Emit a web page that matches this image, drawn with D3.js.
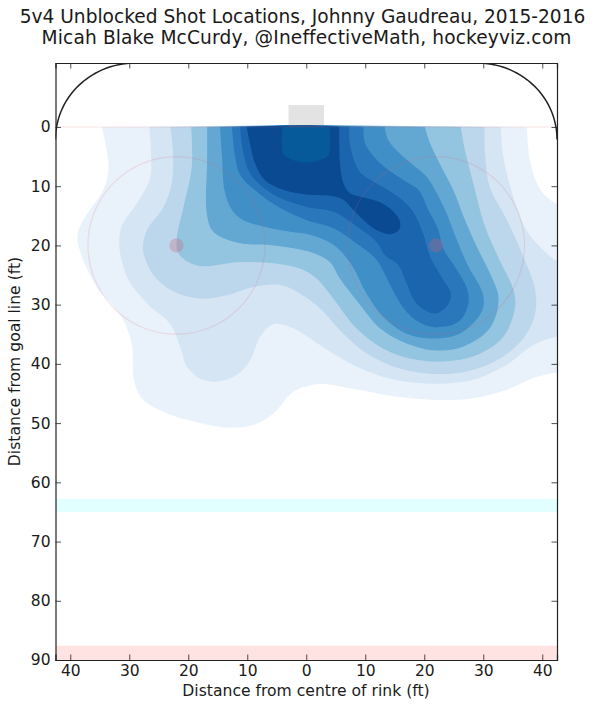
<!DOCTYPE html>
<html>
<head>
<meta charset="utf-8">
<script src="https://cdn.jsdelivr.net/npm/d3@7"></script>
<style>
  html, body { margin: 0; padding: 0; background: #fff; }
  svg { display: block; }
  text { font-family: "DejaVu Sans"; fill: #1a1a1a; }
</style>
</head>
<body>
<div id="chart"></div>
<script>
// Titles and axis labels
const titleLines = ["5v4 Unblocked Shot Locations, Johnny Gaudreau, 2015-2016",
                    "Micah Blake McCurdy, @IneffectiveMath, hockeyviz.com"];
const xLabel = "Distance from centre of rink (ft)";
const yLabel = "Distance from goal line (ft)";
const xTicks = [40, 30, 20, 10, 0, -10, -20, -30, -40];
const yTicks = [0, 10, 20, 30, 40, 50, 60, 70, 80, 90];

// Shot density bands, lightest to darkest, as [x ft, y ft] outlines
const band1 = [[34.65,0],[33.5,6.7],[34.4,10.6],[37.8,15.7],[38.8,18.5],[37.9,22.2],[35.5,27],[31.5,31.8],[29.6,36.5],[29.2,42.7],[27.9,45.8],[24.2,48.1],[18,50],[12.9,50.8],[8.9,50.3],[5.55,48.4],[2.2,44.7],[-2.3,43.4],[-7.4,44.1],[-15.9,45.6],[-22.7,46.1],[-28.3,45.8],[-33.9,44.4],[-38.5,42.4],[-42.4,41.5],[-46,41.5],[-46,13.2],[-42.4,12.9],[-40.7,11.8],[-39.1,9.5],[-37.9,5.6],[-37.4,0]];
const band2 = [[26.6,0],[26.3,4.5],[26.5,8.7],[28.7,12.9],[31.3,16.8],[31.7,19.7],[31.3,22.5],[30.1,25.9],[27,29.8],[23.1,33.2],[21.4,37.1],[20.2,40.5],[18,42.5],[15.2,43],[11.8,41.9],[9.5,39.4],[7.8,35.4],[5.55,33.3],[2.2,34],[-2.3,36.8],[-7.4,39.9],[-13,42.2],[-18.7,43.2],[-23.8,43.3],[-28.9,42.5],[-33.9,40.2],[-38.5,36.8],[-42.4,35.4],[-46,35.2],[-46,23],[-42.4,22.5],[-40.2,20.8],[-37.3,17.4],[-35.1,11.8],[-33.4,5],[-33,0]];
const band3 = [[23,0],[22.6,3.9],[22.8,9.5],[24.2,13.5],[27,17.4],[27.7,20.2],[27.4,22],[25.9,25],[22.5,27.8],[18,29],[13.5,28.4],[8.9,27],[4.4,26.7],[1.07,28.1],[-2.3,30.6],[-6.3,34.9],[-10.2,38.2],[-15.9,40.8],[-21.5,41.7],[-27.2,41.3],[-32.3,39.4],[-36.8,35.7],[-38.8,31.5],[-38.8,27.5],[-36.8,21.9],[-34,15.7],[-31.1,10.1],[-30.3,4.5],[-30.2,0]];
const band4 = [[19.5,0],[19.4,6.7],[20.8,13.5],[21.9,18.5],[21.7,21.3],[18.5,23.4],[11.2,22.8],[5.55,23],[1.07,23.9],[-1.75,25.6],[-4.6,29],[-8.5,34],[-13,37.4],[-17.6,39.1],[-23.2,39.6],[-28.9,38.5],[-33.4,35.4],[-35.4,30.4],[-35.1,27.5],[-32.5,21.9],[-30.3,16.8],[-28.3,9.5],[-26.9,3.9],[-26.2,0]];
const band5 = [[16.8,0],[16.8,5.9],[16.9,14.3],[16,17.4],[14,18.8],[10.7,19.7],[6.7,19.9],[2.7,20.4],[-1.2,21.3],[-4,22.8],[-5.7,25.6],[-9.1,30],[-12.5,34],[-16.4,36.3],[-21.5,37.7],[-26.6,37.1],[-31.1,34],[-32.6,29],[-31.4,25.3],[-28.9,20.2],[-26.9,15.7],[-24.9,10.6],[-23.2,7.3],[-21,2.8],[-20.1,0]];
const band6 = [[14.6,0],[14.3,4.7],[13.8,11],[12.6,14],[10.7,15.7],[7.3,16.8],[2.7,17.7],[-.6,18.2],[-4.6,19.9],[-7.5,23],[-10.2,28.1],[-13,32],[-17,34.9],[-21.5,35.7],[-26,34.9],[-29.4,31.8],[-30.1,29.8],[-29.7,27.5],[-27.5,23.6],[-25.5,19],[-23.8,14.6],[-21.8,10.6],[-20.4,8.4],[-16.4,5],[-13.9,2.2],[-13.3,0]];
const band7 = [[12.6,0],[12.1,4.7],[11.2,8.1],[8.4,10.9],[4.4,13.7],[0,15.7],[-4.6,17.1],[-8.6,19.7],[-11.9,22.4],[-14.4,27],[-16.5,30.6],[-19,32.9],[-21.8,33.8],[-25.8,32.9],[-27.5,29.8],[-27.2,27.2],[-25.2,23.6],[-23.2,20.5],[-22.4,17.4],[-20.7,14],[-19,10.6],[-17,9.3],[-12.5,6.1],[-10,2.8],[-9.7,0]];
const band8 = [[11.2,0],[10.9,3],[9.8,7.3],[7.8,9.8],[4.4,12],[-.1,13.5],[-4.6,14.3],[-8.6,16.8],[-11.9,19.4],[-13.3,21.6],[-15.6,23.3],[-17,26.4],[-18.7,29.8],[-21.8,31.5],[-24,30],[-24.5,28.1],[-22.9,25.3],[-21,21.9],[-19.8,18],[-18.1,14.3],[-15.6,11.8],[-11.9,9.5],[-9.1,7.6],[-7.4,3],[-7.3,0]];
const band9 = [[10.1,0],[9.5,3],[8.7,6.1],[7,9],[3.9,10.6],[-.1,11.4],[-4.6,11.7],[-6.3,12.3],[-8,14],[-9.7,15.7],[-11.9,17.4],[-14.2,18.1],[-15.7,17.4],[-15.9,16],[-14.8,14.3],[-12.5,12.7],[-9.7,11.9],[-7.4,11.2],[-6.3,9.5],[-5.7,5.9],[-5.6,0]];
const creaseBand = [[4,0],[3.9,4.5],[2.2,5.6],[-.1,6],[-2.3,5.6],[-3.8,4.7],[-3.9,0]];

const bands = [band1, band2, band3, band4, band5, band6, band7, band8, band9, creaseBand];
const bandColors = ["#e9f2fb", "#d5e5f4", "#bcd7ec", "#93c4e0", "#63a8d3", "#408fc7", "#2a78bb", "#1a65ae", "#094a93", "#065a9a"];

// Rink markings in feet
const faceoffX = [22, -22];
const faceoffY = 20;
const faceoffRadius = 15;
const faceoffDot = 1.2;
const netX = [3, -3];
const netY = [-3.7, 0];
const blueLine = [62.8, 65];
const redLine = [87.6, 90];

const width = 600, height = 708;
const left = 55.5, right = 557, top_ = 63, bottom = 660;

const x = d3.scaleLinear().domain([42.5, -42.5]).range([left, right]);
const y = d3.scaleLinear().domain([-10.8, 90]).range([top_, bottom]);

const svg = d3.select("#chart").append("svg").attr("width", width).attr("height", height);

svg.append("clipPath").attr("id", "plot").append("rect")
  .attr("x", left).attr("y", top_).attr("width", right - left).attr("height", bottom - top_);

const plot = svg.append("g").attr("clip-path", "url(#plot)");

// Bands of the far lines
plot.append("rect").attr("x", left).attr("width", right - left)
  .attr("y", y(blueLine[0])).attr("height", y(blueLine[1]) - y(blueLine[0])).attr("fill", "#e2ffff");
plot.append("rect").attr("x", left).attr("width", right - left)
  .attr("y", y(redLine[0])).attr("height", y(redLine[1]) - y(redLine[0])).attr("fill", "#ffe2e2");

// Density bands, each closed through a small lip above the goal line
const outline = d3.line().x(d => x(d[0])).y(d => y(d[1])).curve(d3.curveCatmullRom.alpha(0.5));
plot.selectAll("path.band")
  .data(bands)
  .enter()
  .append("path")
  .attr("class", "band")
  .attr("fill", (d, i) => bandColors[i])
  .attr("d", (d, i) => outline(d) + (i < 9 ? `L${x(0)},${y(-0.35)}Z` : "Z"));

// Goal line
plot.append("line").attr("x1", left).attr("x2", right).attr("y1", y(0)).attr("y2", y(0))
  .attr("stroke", "rgba(230,80,80,0.1)").attr("stroke-width", 1.5);

// Net
plot.append("rect")
  .attr("x", x(netX[0])).attr("width", x(netX[1]) - x(netX[0]))
  .attr("y", y(netY[0])).attr("height", y(netY[1]) - y(netY[0]))
  .attr("fill", "rgba(128,128,128,0.22)");

// Faceoff circles and dots
faceoffX.forEach(function(fx) {
  plot.append("ellipse")
    .attr("cx", x(fx)).attr("cy", y(faceoffY))
    .attr("rx", x(0) - x(faceoffRadius)).attr("ry", y(faceoffRadius) - y(0))
    .attr("fill", "none").attr("stroke", "rgba(215,100,110,0.16)").attr("stroke-width", 1.3);
  plot.append("circle")
    .attr("cx", x(fx)).attr("cy", y(faceoffY)).attr("r", x(0) - x(faceoffDot))
    .attr("fill", "rgba(205,95,115,0.3)");
});

// Boards, a rounded corner on each side
const cornerX = 29, cornerY = 2.1, cornerRx = 13.5, cornerRy = 12.9;
const corner = d3.line().x(d => x(d[0])).y(d => y(d[1]));
[1, -1].forEach(function(side) {
  const pts = d3.range(0, 91, 3).map(a => [
    side * (cornerX + cornerRx * Math.cos(a * Math.PI / 180)),
    cornerY - cornerRy * Math.sin(a * Math.PI / 180)
  ]);
  plot.append("path").attr("d", corner(pts)).attr("fill", "none")
    .attr("stroke", "#222").attr("stroke-width", 1.5);
});

// Axes on all four sides with ticks pointing in
const tickLen = 5.5;
const fmt = d => Math.abs(d);
const axes = [
  svg.append("g").attr("transform", `translate(0,${bottom})`)
    .call(d3.axisBottom(x).tickValues(xTicks).tickFormat(fmt).tickSize(-tickLen).tickPadding(5)),
  svg.append("g").attr("transform", `translate(0,${top_})`)
    .call(d3.axisTop(x).tickValues(xTicks).tickFormat("").tickSize(-tickLen)),
  svg.append("g").attr("transform", `translate(${left},0)`)
    .call(d3.axisLeft(y).tickValues(yTicks).tickFormat(fmt).tickSize(-tickLen).tickPadding(5)),
  svg.append("g").attr("transform", `translate(${right},0)`)
    .call(d3.axisRight(y).tickValues(yTicks).tickFormat("").tickSize(-tickLen))
];
axes.forEach(function(a) {
  a.select(".domain").attr("stroke", "#222").attr("stroke-width", 1.2);
  a.selectAll(".tick line").attr("stroke", "#222").attr("stroke-width", 0.8);
  a.selectAll("text").style("font-size", "15.5px").style("font-family", "DejaVu Sans").attr("fill", "#1a1a1a");
});

// Titles, the two lines sit slightly apart in the reference
const titleCentre = [302.5, 306.5];
const titleSpacing = ["0px", "0.13px"];
svg.selectAll("text.title")
  .data(titleLines)
  .enter()
  .append("text")
  .attr("class", "title")
  .attr("x", (d, i) => titleCentre[i])
  .attr("y", (d, i) => 23 + i * 21)
  .attr("text-anchor", "middle")
  .style("font-size", "18.6px")
  .style("letter-spacing", (d, i) => titleSpacing[i])
  .text(d => d);

svg.append("text")
  .attr("x", 306).attr("y", 696)
  .attr("text-anchor", "middle").style("font-size", "15.6px")
  .text(xLabel);

svg.append("text")
  .attr("transform", `translate(20,361.5) rotate(-90)`)
  .attr("text-anchor", "middle").style("font-size", "15.6px")
  .text(yLabel);
</script>
</body>
</html>
